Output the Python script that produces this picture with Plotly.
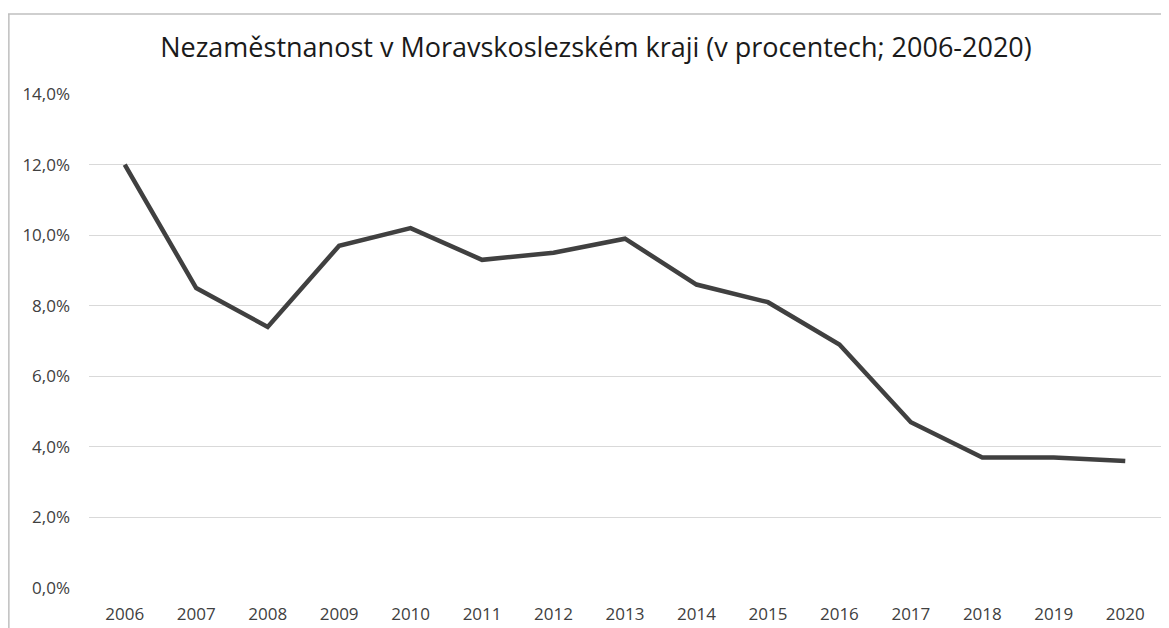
import plotly.graph_objects as go

years = ["2006", "2007", "2008", "2009", "2010", "2011", "2012", "2013",
         "2014", "2015", "2016", "2017", "2018", "2019", "2020"]
unemployment = [12.0, 8.5, 7.4, 9.7, 10.2, 9.3, 9.5, 9.9,
                8.6, 8.1, 6.9, 4.7, 3.7, 3.7, 3.6]
y_ticks = [0, 2, 4, 6, 8, 10, 12, 14]
y_tick_labels = ["0,0%", "2,0%", "4,0%", "6,0%", "8,0%", "10,0%", "12,0%", "14,0%"]
title_text = "Nezaměstnanost v Moravskoslezském kraji (v procentech; 2006-2020)"

fig = go.Figure()
fig.add_trace(go.Scatter(
    x=years, y=unemployment, mode="lines",
    line=dict(color="#404040", width=4.5),
    hoverinfo="x+y", showlegend=False,
))

# page has an 8px body margin; figure coordinates = page coordinates - 8
OFF = 8
W, H = 1169, 628
ml = 89 - OFF
mt = 94 - OFF
mr = W - (1161 - OFF)
mb = H - (588 - OFF)
pw = W - ml - mr
ph = H - mt - mb

fig.update_layout(
    width=W, height=H,
    margin=dict(l=ml, r=mr, t=mt, b=mb),
    paper_bgcolor="white", plot_bgcolor="white",
    font=dict(family="Open Sans, Noto Sans, sans-serif", color="#404040", size=17),
    title=dict(text=title_text, x=(596 - OFF - ml) / pw, xref="paper", xanchor="center",
               y=1 - (47.5 - OFF) / H, yanchor="middle",
               font=dict(family="Open Sans, sans-serif", size=27, color="#1a1a1a")),
    xaxis=dict(
        type="category", range=[-0.5, len(years) - 0.5],
        showgrid=False, zeroline=False, showline=False,
        ticks="", tickfont=dict(size=17, color="#404040"),
        ticklabelstandoff=14,
    ),
    yaxis=dict(
        range=[0, 14], tickvals=y_ticks, ticktext=y_tick_labels,
        showgrid=True, gridcolor="#d9d9d9", gridwidth=1,
        zeroline=False, showline=False, ticks="",
        tickfont=dict(size=17, color="#404040"),
        ticklabelstandoff=18,
    ),
    shapes=[
        dict(type="line", xref="paper", yref="paper",
             x0=(8 - OFF - ml) / pw, x1=(W - ml) / pw,
             y0=1 + (mt - (14 - OFF)) / ph, y1=1 + (mt - (14 - OFF)) / ph,
             line=dict(color="#bfbfbf", width=1.5)),
        dict(type="line", xref="paper", yref="paper",
             x0=(8 - OFF - ml) / pw + 0.0008, x1=(8 - OFF - ml) / pw + 0.0008,
             y0=1 + (mt - (14 - OFF)) / ph, y1=-mb / ph - 0.01,
             line=dict(color="#bfbfbf", width=1.5)),
    ],
)

fig.write_html("out.html")
